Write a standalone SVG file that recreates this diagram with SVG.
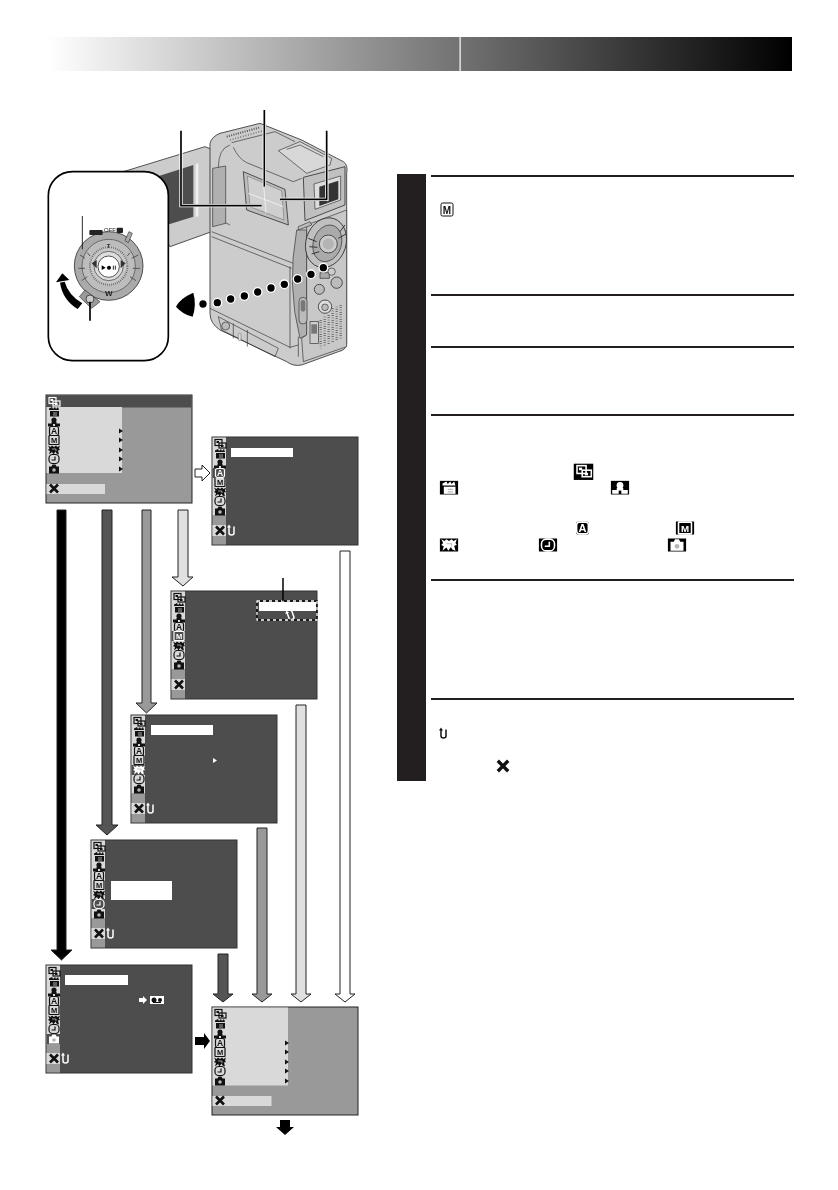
<svg xmlns="http://www.w3.org/2000/svg" width="838" height="1190" viewBox="0 0 838 1190">
<style>
text{font-family:"Liberation Sans",Arial,sans-serif;filter:url(#gray)}
.bd{fill:#999;stroke:#222;stroke-width:1}
.dk{fill:#4d4d4d;stroke:#333;stroke-width:1}
.lt{fill:#d9d9d9}
.hl{fill:#fff}
.rule{stroke:#231f20;stroke-width:2}
.ar{stroke:#222;stroke-width:1;stroke-linejoin:miter}
.col{color:#111}
.inv{color:#fff}
.c{stroke:#333;stroke-width:2.5;fill:#ccc;stroke-linejoin:round}
.l{stroke:#333;stroke-width:2;fill:none}
.o{fill:none;stroke:currentColor;stroke-width:1.2}
.f{fill:currentColor}
</style>
<defs>
<filter id="gray" x="-30%" y="-30%" width="160%" height="160%" color-interpolation-filters="sRGB"><feOffset dx="0" dy="0"/></filter>
<linearGradient id="hdr" x1="48" x2="792" y1="0" y2="0" gradientUnits="userSpaceOnUse"><stop offset="0" stop-color="#fff"/><stop offset="1" stop-color="#000"/></linearGradient>
<g id="i1"><rect class="o" x="-5" y="-4.500" width="7" height="6"/><rect class="o" x="-1" y="-1" width="7" height="5"/><rect class="f" x="1" y="1" width="2.500" height="2"/><rect class="f" x="-3.500" y="-3" width="2.500" height="2"/></g>
<g id="i2"><path class="f" d="M-4,-1H5V4.500H-4Z"/><path class="f" d="M-5,-2L-5,-3.500L-2,-5L-1,-3L1,-5L2,-3L4,-5L5,-2Z"/><path d="M-1,1H3M-1,3H3" stroke="#bbb" stroke-width=".9"/></g>
<g id="i3"><circle class="f" cx="0" cy="-2" r="2.600"/><path class="f" d="M-6,1.500H-1V4.500H-6ZM1,1.500H6V4.500H1Z"/><path class="f" d="M-2.500,0H2.500V2H-2.500Z"/></g>
<g id="i4"><rect class="o" x="-4.500" y="-4.500" width="9" height="9" rx="2"/><text x="0" y="3.200" font-size="8.500" font-weight="700" text-anchor="middle" class="f">A</text></g>
<g id="i5"><rect class="o" x="-5" y="-4.500" width="10" height="9" rx=".5"/><text x="0" y="2.800" font-size="7.500" font-weight="700" text-anchor="middle" class="f">M</text></g>
<g id="i6"><path class="f" d="M-6,-4.500L-3.500,-3L-2,-4.500L0,-3L2,-4.500L3.500,-3L6,-4.500L5,-1.500L6,0L4,.5L5,4.500L2.500,3.500L1.500,1.500L-.5,4.500L-2,2L-5,4.500L-4,1L-6,0L-4.500,-1.500Z"/><path d="M-2,-1H2V1" stroke="#bbb" stroke-width=".8" fill="none"/></g>
<g id="i7"><rect class="o" x="-5" y="-4.500" width="10" height="9" rx="3.600"/><path class="o" d="M1,-2.500V1H-2.500"/></g>
<g id="i8"><path class="f" d="M-5,-2.500H-2.500L-1.500,-4.500H1.500L2.500,-2.500H5V4.500H-5Z"/><circle cx="0" cy="1" r="1.800" fill="#b5b5b5"/></g>
<g id="x"><path d="M-4,-4L4,4M4,-4L-4,4" stroke="currentColor" stroke-width="2.600" fill="none"/></g>
<g id="u"><path fill="none" stroke="currentColor" stroke-width="1.500" d="M-2,-3.500V3Q-2,5 .5,5Q3,5 3,3V-3.500"/><path class="f" d="M-4,-2.500L-2,-5.500L0,-2.500Z"/></g>
<g id="icons" class="col">
<use href="#i1" x="8" y="7"/><use href="#i2" x="8" y="17"/><use href="#i3" x="8" y="27"/><use href="#i4" x="8" y="36"/><use href="#i5" x="8" y="45"/><use href="#i6" x="8" y="55"/><use href="#i7" x="8" y="64"/><use href="#i8" x="8" y="74"/>
</g>
<path id="tri" d="M0,-2.500L4,0L0,2.500Z" fill="#111"/>
<g id="tris"><use href="#tri" x="73" y="36"/><use href="#tri" x="73" y="45"/><use href="#tri" x="73" y="55"/><use href="#tri" x="73" y="64"/><use href="#tri" x="73" y="74"/></g>
<g id="dkbase"><rect class="dk" x="0" y="0" width="146" height="108"/><rect class="lt" x="0.500" y="0.500" width="13.500" height="78"/><rect fill="#999" x="0.500" y="78" width="13.500" height="29.500"/><rect class="lt" x="0.500" y="88" width="13.500" height="11"/><use href="#icons"/><use href="#x" x="8" y="93.500" class="col"/></g>
</defs>

<g id="header"><rect x="48" y="37" width="744" height="34" fill="url(#hdr)"/><rect x="459.500" y="37" width="1.200" height="34" fill="#fff"/></g>

<g id="camera" transform="translate(30 90) scale(.33333)">
<path class="c" d="M280,245L525,170L545,178V425L420,470Z"/>
<path d="M375,262L490,225V380L410,405Z" fill="#4d4d4d"/>
<path d="M497,222L505,220V378L497,382Z" fill="#eee"/>
<path class="c" d="M540,160Q545,140 570,130L690,100L815,150L940,215Q955,225 950,250V760Q950,780 925,785L815,825Q790,830 770,815L570,720Q540,700 540,670Z"/>
<path d="M590,140L690,112" stroke="#555" stroke-width="6" stroke-dasharray="3 4" fill="none"/>
<path d="M600,150L700,122" stroke="#777" stroke-width="5" stroke-dasharray="3 5" fill="none"/>
<path class="l" d="M605,158L735,125L795,155"/>
<path class="l" d="M600,165Q565,175 565,235M565,345Q565,395 600,405"/>
<path d="M548,235L587,228V400L548,410Z" fill="#b0b0b0" stroke="#333" stroke-width="2"/>
<path class="l" d="M610,172Q625,205 650,218L790,275L815,265"/>
<path d="M745,182L810,155L905,205L900,225L830,250Z" fill="#d8d8d8" stroke="#333" stroke-width="2"/>
<path class="l" d="M770,178L810,165L880,200"/>
<path d="M640,245L765,298L775,405L650,360Z" fill="#bdbdbd" stroke="#333" stroke-width="2.500" stroke-linejoin="round"/>
<path d="M652,258L755,302L762,390L660,350Z" fill="#cfcfcf" stroke="#666" stroke-width="1.500"/>
<path d="M655,310L760,350M700,275L708,370" stroke="#f4f4f4" stroke-width="2.500" fill="none"/>
<path d="M820,262L945,230V345L825,392Z" fill="#c0c0c0" stroke="#333" stroke-width="2.500" stroke-linejoin="round"/>
<path d="M852,282L932,258V330L855,358Z" fill="#ddd" stroke="#333" stroke-width="2"/>
<path d="M868,290L925,272V328L868,348Z" fill="#333"/>
<path d="M892,282L896,281V333L892,335Z" fill="#aaa"/>
<path class="l" d="M545,425L790,520M545,440L785,535"/>
<path class="l" d="M780,530V775M805,740V800"/>
<path d="M800,420Q770,590 810,745L830,735L830,420Z" fill="#b0b0b0" stroke="#333" stroke-width="2"/>
<path d="M830,405L950,360V770L820,815L815,745L830,735Z" fill="#c8c8c8" stroke="#333" stroke-width="2"/>
<path d="M805,410L840,395L845,405L805,420Z" fill="#bbb" stroke="#333" stroke-width="2"/>
<ellipse cx="888" cy="458" rx="60" ry="76" transform="rotate(18 888 458)" fill="#c0c0c0" stroke="#333" stroke-width="2.500"/>
<ellipse cx="892" cy="460" rx="42" ry="56" transform="rotate(18 892 460)" fill="#aaa" stroke="#333" stroke-width="2"/>
<circle cx="895" cy="462" r="27" fill="#ccc" stroke="#333" stroke-width="2.500"/>
<circle cx="895" cy="462" r="17" fill="#b4b4b4"/>
<path d="M835,445L860,455M838,470L862,472M845,492L868,485M930,425L945,405M925,445L948,432" stroke="#333" stroke-width="3" fill="none"/>
<path d="M870,548H898V565H870Z" fill="#aaa" stroke="#333" stroke-width="2"/>
<circle cx="905" cy="545" r="11" fill="#ccc" stroke="#333" stroke-width="2"/>
<circle cx="868" cy="598" r="15" fill="#bbb" stroke="#333" stroke-width="2.500"/>
<circle cx="920" cy="578" r="17" fill="#bbb" stroke="#333" stroke-width="2.500"/>
<circle cx="885" cy="650" r="20" fill="#ddd" stroke="#333" stroke-width="2.500"/>
<circle cx="885" cy="652" r="10" fill="#bbb" stroke="#333" stroke-width="2"/>
<path d="M920,650V755M908,655V760M896,675V765M884,680V770M872,690V775M932,645V750" stroke="#555" stroke-width="7" stroke-dasharray="2 5" fill="none"/>
<rect x="840" y="695" width="25" height="65" fill="#ccc" stroke="#333" stroke-width="2"/>
<rect x="844" y="703" width="17" height="28" fill="#777"/>
<rect x="807" y="622" width="24" height="80" rx="12" fill="#bbb" stroke="#333" stroke-width="2"/>
<rect x="812" y="630" width="14" height="35" rx="7" fill="#777"/>
<path class="l" d="M540,655L780,772L805,765M565,680L745,775L735,800L575,720Z"/>
<path class="l" d="M610,700V745M652,720V770"/>
<circle cx="587" cy="708" r="12" fill="#bbb" stroke="#333" stroke-width="2"/>
<rect x="625" y="730" width="8" height="22" rx="4" fill="#ddd" stroke="#666" stroke-width="1.500"/>
<g fill="#000" stroke="#fff" stroke-width="4">
<circle cx="880" cy="533" r="13"/><circle cx="843" cy="553" r="13"/><circle cx="803" cy="567" r="13"/><circle cx="763" cy="583" r="13"/><circle cx="723" cy="594" r="13"/><circle cx="683" cy="606" r="13"/><circle cx="643" cy="618" r="13"/><circle cx="602" cy="627" r="13"/><circle cx="562" cy="638" r="13"/><circle cx="519" cy="642" r="13"/>
</g>
<path d="M490,608Q450,625 438,650Q460,675 488,680Q500,645 490,608Z" fill="#000"/>
<path d="M453,122V347H695" fill="none" stroke="#fff" stroke-width="10"/><path d="M453,122V347H695" fill="none" stroke="#000" stroke-width="5"/>
<path d="M703,105V290" fill="none" stroke="#fff" stroke-width="10"/><path d="M703,60V290" fill="none" stroke="#000" stroke-width="5"/>
<path d="M890,122V328H750" fill="none" stroke="#fff" stroke-width="10"/><path d="M890,122V328H750" fill="none" stroke="#000" stroke-width="5"/>
<rect x="55" y="245" width="360" height="567" rx="72" fill="#fff" stroke="#000" stroke-width="5"/>
<circle cx="236" cy="528" r="103" fill="#aaa" stroke="#333" stroke-width="2.500"/>
<circle cx="236" cy="528" r="80" fill="#bdbdbd" stroke="#444" stroke-width="2"/>
<circle cx="236" cy="528" r="56" fill="#c8c8c8" stroke="#555" stroke-width="6" stroke-dasharray="2 4"/>
<circle cx="236" cy="528" r="44" fill="#ddd" stroke="#333" stroke-width="2"/>
<circle cx="236" cy="530" r="32" fill="#fff" stroke="#333" stroke-width="2.500"/>
<path d="M215,526L227,533L215,540Z" fill="#000"/><circle cx="237" cy="533" r="6" fill="#000"/><path d="M250,527V539M256,527V539" stroke="#000" stroke-width="2.500"/>
<path d="M150,495L165,505M145,535H165M155,572L172,560M325,495L305,505M330,535H308M318,572L300,560M172,488L180,498M300,488L292,498" stroke="#444" stroke-width="2.500"/>
<path d="M185,520L200,510V535ZM287,520L272,510V535Z" fill="#333"/>
<text x="236" y="474" font-size="18" font-weight="700" text-anchor="middle" fill="#333">T</text>
<text x="236" y="617" font-size="24" font-weight="700" text-anchor="middle" fill="#222">W</text>
<text x="240" y="427" font-size="18" text-anchor="middle" fill="#222">OFF</text>
<rect x="178" y="420" width="40" height="15" rx="3" fill="#222"/>
<rect x="260" y="413" width="19" height="16" rx="3" fill="#222"/>
<path d="M285,452L297,425L307,430L295,458Z" fill="#aaa" stroke="#333" stroke-width="2"/>
<path d="M148,620L165,600L210,635L185,655Z" fill="#999" stroke="#333" stroke-width="2"/>
<circle cx="180" cy="627" r="12" fill="#ccc" stroke="#333" stroke-width="2.500"/>
<path d="M180,635V692" stroke="#000" stroke-width="5"/>
<path d="M157,378V478" stroke="#000" stroke-width="2.500"/>
<path d="M157,640Q115,615 104,575L90,578Q98,630 143,657Z" fill="#000"/>
<path d="M97,550L118,570L78,577Z" fill="#000"/>
</g>

<g id="connectors">
<path class="ar" fill="#000" d="M57,510H66V950H72L61.500,960L51,950H57Z"/>
<path class="ar" fill="#555" d="M102,510H112V825H118L107,835L96,825H102Z"/>
<path class="ar" fill="#999" d="M142,510H151V703H157L146.500,713L136,703H142Z"/>
<path class="ar" fill="#e0e0e0" d="M178,510H188V577H193L183,586L172,577H178Z"/>
<path class="ar" fill="#555" d="M218,954H228V994H233L223,1002L213,994H218Z"/>
<path class="ar" fill="#999" d="M257,828H267V994H272L262,1002L252,994H257Z"/>
<path class="ar" fill="#e0e0e0" d="M296,705H306V994H311L301,1002L291,994H296Z"/>
<path class="ar" fill="#fff" d="M340,551H350V994H355L345,1002L335,994H340Z"/>
<path class="ar" fill="#fff" d="M195,469H202V465L210,473L202,481V477H195Z"/>
<path fill="#000" d="M195,1037H204V1033L210,1041L204,1049V1045H195Z"/>
<path fill="#000" d="M280,1120H290V1127H294L285,1135L276,1127H280Z"/>
</g>

<g id="screen1" transform="translate(46 395)">
<rect class="bd" x="0" y="0" width="146" height="108"/><rect x="0.500" y="0.500" width="145" height="12" fill="#4d4d4d"/><rect class="lt" x="0.500" y="12" width="75.500" height="66"/><rect class="lt" x="0.500" y="89" width="58.500" height="10"/>
<use href="#icons"/><rect x="1" y="1" width="14" height="11" fill="#4d4d4d"/><use href="#i1" x="8" y="7" class="inv"/><use href="#tris"/><use href="#x" x="8" y="93.500" class="col"/>
</g>

<g id="screen2" transform="translate(212 437)">
<use href="#dkbase"/><rect x="0.500" y="31" width="13.500" height="10" fill="#4d4d4d"/><use href="#i4" x="8" y="36" class="inv"/>
<rect class="hl" x="19" y="11" width="62" height="9"/><use href="#u" x="19" y="93" class="inv"/>
</g>

<g id="screen3" transform="translate(171 591)">
<use href="#dkbase"/><rect x="0.500" y="40" width="13.500" height="10" fill="#4d4d4d"/><use href="#i5" x="8" y="45" class="inv"/>
<rect class="hl" x="88" y="11" width="57" height="9"/><use href="#u" x="119" y="24" class="inv" transform="rotate(-20 119 24)"/>
</g>
<g id="callout">
<rect x="257" y="601" width="60" height="19" fill="none" stroke="#000" stroke-width="1.300"/>
<rect x="257" y="601" width="60" height="19" fill="none" stroke="#fff" stroke-width="1.300" stroke-dasharray="3 3"/>
<path d="M283,578V601" stroke="#000" stroke-width="1.500"/>
</g>

<g id="screen4" transform="translate(131 715)">
<use href="#dkbase"/><rect x="0.500" y="50" width="13.500" height="10" fill="#4d4d4d"/><use href="#i6" x="8" y="55" class="inv"/>
<rect class="hl" x="20" y="10" width="62" height="10"/><path d="M82,43L86,45.500L82,48Z" fill="#fff"/><use href="#u" x="19" y="93" class="inv"/>
</g>

<g id="screen5" transform="translate(91 840)">
<use href="#dkbase"/><rect x="0.500" y="59" width="13.500" height="10" fill="#4d4d4d"/><use href="#i7" x="8" y="64" class="inv"/>
<rect class="hl" x="20" y="41" width="61" height="19"/><use href="#u" x="19" y="93" class="inv"/>
</g>

<g id="screen6" transform="translate(46 965)">
<use href="#dkbase"/><rect x="0.500" y="69" width="13.500" height="10" fill="#4d4d4d"/><use href="#i8" x="8" y="74" class="inv"/>
<rect class="hl" x="19" y="10" width="63" height="10"/>
<path d="M93,33H97V31L101,35L97,39V37H93Z" fill="#fff"/><rect x="104" y="31" width="14" height="8" fill="#fff"/><circle cx="108" cy="35" r="2.500" fill="#111"/><circle cx="114" cy="35" r="2" fill="#111"/><path d="M107,37.500H115" stroke="#111"/><use href="#u" x="19" y="93" class="inv"/>
</g>

<g id="screen7" transform="translate(212 1007)">
<rect class="bd" x="0" y="0" width="146" height="108"/><rect class="lt" x="0.500" y="0.500" width="75.500" height="78"/><rect class="lt" x="0.500" y="89" width="59" height="10"/>
<use href="#icons"/><use href="#tris"/><use href="#x" x="8" y="93.500" class="col"/>
</g>

<g id="steps">
<rect x="397" y="174" width="29" height="607" fill="#231f20"/>
<path class="rule" d="M431,176H794M431,295H794M431,347H794M431,415H794M431,580H794M431,699H794"/>
<g class="col"><rect x="441" y="203" width="12" height="13" rx="1.500" fill="#fff" stroke="#111"/><text x="447" y="213.500" font-size="10" font-weight="700" text-anchor="middle" fill="#111">M</text></g>
<g class="inv">
<g transform="translate(583.500 471.500) scale(1.300)"><rect x="-7.500" y="-6" width="15" height="12.500" fill="#000"/><use href="#i1"/></g>
<g transform="translate(449 488) scale(1.300)"><rect x="-7" y="-5.500" width="14" height="10.500" fill="#000"/><use href="#i2"/></g>
<g transform="translate(620 488) scale(1.300)"><rect x="-7" y="-5.500" width="14" height="10.500" fill="#000"/><use href="#i3"/></g>
<g transform="translate(582.500 528) scale(1.300)"><rect x="-5" y="-5" width="10" height="10" rx="2" fill="#000"/><use href="#i4"/></g>
<g transform="translate(685 528) scale(1.300)"><rect x="-7" y="-5" width="14" height="10" fill="#000"/><use href="#i5"/></g>
<g transform="translate(449 545) scale(1.300)"><rect x="-7" y="-5" width="14" height="10" fill="#000"/><use href="#i6"/></g>
<g transform="translate(548 545) scale(1.300)"><rect x="-7" y="-5" width="14" height="10" fill="#000"/><use href="#i7"/></g>
<g transform="translate(677 545) scale(1.300)"><rect x="-7" y="-5" width="14" height="10" fill="#000"/><use href="#i8"/></g>
</g>
<use href="#u" x="443" y="733" class="col"/>
<use href="#x" transform="translate(503 766) scale(1.300)" class="col"/>
</g>
</svg>
